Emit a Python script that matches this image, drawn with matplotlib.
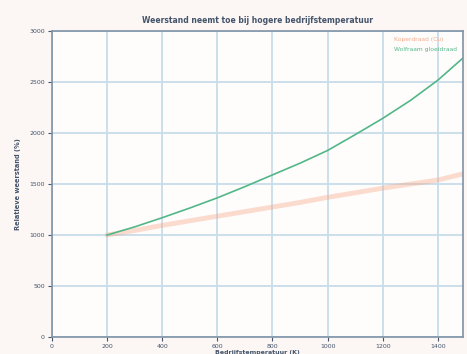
import matplotlib
matplotlib.use('Agg')
import matplotlib.pyplot as plt

# temperatuur (K) en relatieve weerstand
temp = [200, 300, 400, 500, 600, 700, 800, 900, 1000, 1100, 1200, 1300, 1400, 1490]
orange_vals = [1000, 1045, 1095, 1140, 1185, 1230, 1275, 1320, 1370, 1415, 1460, 1500, 1540, 1600]
green_vals = [1000, 1080, 1170, 1265, 1365, 1475, 1590, 1705, 1830, 1985, 2145, 2320, 2520, 2735]

x_ticks = [0, 200, 400, 600, 800, 1000, 1200, 1400]
y_ticks = [0, 500, 1000, 1500, 2000, 2500, 3000]

labels = ['Koperdraad (Cu)', 'Wolfraam gloeidraad']
colors = ['#f5a888', '#52b788']
txt = '#44546a'

fig = plt.figure(figsize=(4.67, 3.54), dpi=100, facecolor='#fcf7f5')
ax = fig.add_axes([0.111, 0.048, 0.88, 0.864])
ax.set_facecolor('#fffdfc')

ax.plot(temp, orange_vals, color=colors[0], lw=3.5, alpha=0.4, solid_capstyle='round', label=labels[0])
ax.plot(temp, green_vals, color=colors[1], lw=1.2, label=labels[1])

ax.set_xlim(0, 1490)
ax.set_ylim(0, 3000)
ax.set_xticks(x_ticks)
ax.set_yticks(y_ticks)
ax.grid(True, color='#c9dceb', lw=1.3)
ax.set_axisbelow(True)
for s in ax.spines.values():
    s.set_color('#7f93a6')
    s.set_linewidth(1.2)
ax.tick_params(labelsize=4.5, colors=txt, length=3, width=0.8, pad=2)

ax.set_title('Weerstand neemt toe bij hogere bedrijfstemperatuur', fontsize=5.5,
             color=txt, fontweight='bold', pad=6)
ax.set_ylabel('Relatieve weerstand (%)', fontsize=4.8, color=txt, fontweight='bold', labelpad=6)
ax.set_xlabel('Bedrijfstemperatuur (K)', fontsize=4.5, color=txt, fontweight='bold', labelpad=1)

leg = ax.legend(loc='upper right', fontsize=4.3, frameon=False, handlelength=0,
                handletextpad=0, borderaxespad=0.5, labelspacing=0.8)
for t, c in zip(leg.get_texts(), colors):
    t.set_color(c)
for h in leg.legend_handles:
    h.set_visible(False)

fig.savefig('out.png', dpi=100, facecolor=fig.get_facecolor())
